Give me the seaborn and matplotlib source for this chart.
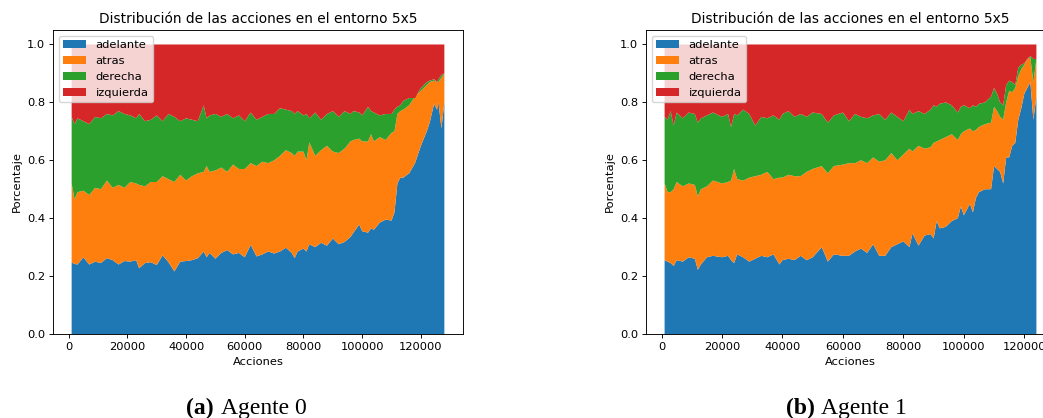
import numpy as np
import matplotlib
matplotlib.use('Agg')
import matplotlib.pyplot as plt
import seaborn as sns

SCALE = 0.825  # the two charts were shrunk to fit side by side

# action shares, stored as the stacked tops
# (adelante, adelante+atras, adelante+atras+derecha); izquierda fills to 1.0
labels = ['adelante', 'atras', 'derecha', 'izquierda']

x_agent0 = [1, 2, 3, 5, 7, 9, 11, 13, 15, 17, 19, 21, 23, 24, 26, 28, 30, 32, 34, 36,
            38, 40, 42, 44, 46, 47, 48, 50, 52, 54, 56, 58, 60, 62, 64, 66, 68, 70, 72, 74,
            76, 77, 78, 80, 81, 82, 84, 86, 88, 90, 92, 94, 96, 97, 99, 100, 102, 103, 104, 106,
            108, 110, 111, 112, 113, 114, 116, 118, 120, 122, 123, 124.5, 125.5, 126, 127, 128]
top_adelante0 = [0.247, 0.242, 0.240, 0.265, 0.240, 0.250, 0.245, 0.262, 0.255, 0.240,
                 0.252, 0.250, 0.255, 0.227, 0.245, 0.248, 0.238, 0.272, 0.248, 0.216,
                 0.250, 0.252, 0.255, 0.262, 0.285, 0.265, 0.280, 0.260, 0.280, 0.290,
                 0.275, 0.280, 0.265, 0.308, 0.268, 0.275, 0.285, 0.278, 0.285, 0.298,
                 0.280, 0.262, 0.285, 0.295, 0.285, 0.310, 0.300, 0.315, 0.305, 0.330,
                 0.310, 0.318, 0.335, 0.350, 0.378, 0.355, 0.350, 0.365, 0.360, 0.385,
                 0.395, 0.392, 0.420, 0.520, 0.540, 0.540, 0.555, 0.590, 0.650, 0.700,
                 0.730, 0.795, 0.775, 0.800, 0.710, 0.800]
top_atras0 = [0.520, 0.465, 0.490, 0.495, 0.480, 0.505, 0.500, 0.530, 0.505, 0.515,
              0.505, 0.525, 0.520, 0.515, 0.510, 0.525, 0.525, 0.545, 0.535, 0.525,
              0.550, 0.530, 0.545, 0.555, 0.560, 0.580, 0.560, 0.565, 0.575, 0.560,
              0.585, 0.570, 0.570, 0.590, 0.580, 0.595, 0.590, 0.600, 0.615, 0.635,
              0.625, 0.615, 0.630, 0.630, 0.600, 0.662, 0.615, 0.635, 0.650, 0.630,
              0.625, 0.640, 0.665, 0.670, 0.675, 0.665, 0.665, 0.690, 0.665, 0.680,
              0.670, 0.695, 0.700, 0.760, 0.770, 0.775, 0.790, 0.820, 0.840, 0.860,
              0.870, 0.875, 0.870, 0.870, 0.885, 0.900]
top_derecha0 = [0.750, 0.725, 0.745, 0.735, 0.725, 0.750, 0.745, 0.760, 0.755, 0.770,
                0.760, 0.755, 0.745, 0.760, 0.735, 0.740, 0.755, 0.735, 0.760, 0.750,
                0.735, 0.745, 0.740, 0.735, 0.790, 0.745, 0.755, 0.760, 0.750, 0.760,
                0.745, 0.755, 0.735, 0.765, 0.740, 0.750, 0.760, 0.760, 0.780, 0.775,
                0.770, 0.760, 0.770, 0.755, 0.760, 0.745, 0.765, 0.740, 0.760, 0.770,
                0.750, 0.770, 0.760, 0.770, 0.765, 0.755, 0.785, 0.770, 0.765, 0.755,
                0.760, 0.760, 0.775, 0.785, 0.790, 0.805, 0.815, 0.815, 0.850, 0.870,
                0.875, 0.880, 0.870, 0.880, 0.895, 0.900]

x_agent1 = [1, 2, 3, 4, 5, 7, 9, 11, 12, 13, 15, 17, 20, 22, 23, 24, 25, 27, 29, 31,
            33, 35, 37, 39, 40, 42, 44, 46, 48, 50, 53, 55, 57, 60, 62, 64, 66, 68, 70, 72,
            74, 76, 78, 80, 82, 83, 85, 87, 89, 90, 91, 92, 94, 96, 98, 99, 100, 102, 103, 104,
            105, 107, 109, 110, 111, 112, 113, 114, 115, 116, 117, 118, 119, 120, 121, 122, 123, 124]
top_adelante1 = [0.255, 0.250, 0.245, 0.235, 0.255, 0.250, 0.265, 0.260, 0.222, 0.240,
                 0.265, 0.270, 0.265, 0.270, 0.255, 0.245, 0.275, 0.265, 0.250, 0.260,
                 0.270, 0.265, 0.275, 0.240, 0.255, 0.260, 0.255, 0.270, 0.255, 0.265,
                 0.300, 0.250, 0.275, 0.270, 0.270, 0.285, 0.295, 0.280, 0.310, 0.270,
                 0.270, 0.300, 0.310, 0.320, 0.300, 0.348, 0.305, 0.340, 0.345, 0.330,
                 0.390, 0.365, 0.370, 0.390, 0.400, 0.440, 0.410, 0.450, 0.420, 0.470,
                 0.490, 0.500, 0.500, 0.580, 0.570, 0.560, 0.520, 0.610, 0.610, 0.650,
                 0.660, 0.740, 0.780, 0.830, 0.850, 0.870, 0.740, 0.820]
top_atras1 = [0.520, 0.490, 0.490, 0.500, 0.525, 0.510, 0.520, 0.515, 0.475, 0.500,
              0.510, 0.530, 0.520, 0.525, 0.530, 0.570, 0.535, 0.530, 0.540, 0.545,
              0.550, 0.560, 0.535, 0.540, 0.540, 0.550, 0.545, 0.545, 0.560, 0.570,
              0.580, 0.555, 0.580, 0.585, 0.590, 0.590, 0.600, 0.590, 0.610, 0.595,
              0.600, 0.625, 0.600, 0.620, 0.640, 0.630, 0.650, 0.640, 0.645, 0.660,
              0.665, 0.670, 0.680, 0.690, 0.670, 0.690, 0.700, 0.710, 0.700, 0.705,
              0.715, 0.725, 0.730, 0.785, 0.770, 0.750, 0.740, 0.800, 0.840, 0.835,
              0.850, 0.890, 0.915, 0.930, 0.950, 0.955, 0.870, 0.950]
top_derecha1 = [0.750, 0.740, 0.770, 0.720, 0.765, 0.745, 0.765, 0.760, 0.730, 0.745,
                0.755, 0.765, 0.750, 0.760, 0.715, 0.760, 0.755, 0.775, 0.760, 0.720,
                0.750, 0.745, 0.755, 0.740, 0.760, 0.770, 0.750, 0.760, 0.750, 0.765,
                0.760, 0.730, 0.755, 0.765, 0.735, 0.760, 0.750, 0.745, 0.755, 0.760,
                0.740, 0.765, 0.750, 0.735, 0.775, 0.760, 0.770, 0.760, 0.775, 0.790,
                0.785, 0.795, 0.800, 0.790, 0.765, 0.785, 0.790, 0.780, 0.790, 0.785,
                0.795, 0.800, 0.820, 0.850, 0.830, 0.800, 0.790, 0.860, 0.875, 0.870,
                0.860, 0.920, 0.930, 0.935, 0.950, 0.960, 0.950, 0.950]

captions = [('(a)', 'Agente 0'), ('(b)', 'Agente 1')]

sns.set_style('ticks', {'axes.edgecolor': 'black', 'text.color': 'black',
                        'axes.labelcolor': 'black', 'xtick.color': 'black',
                        'ytick.color': 'black'})
plt.rcParams['font.family'] = ['DejaVu Sans']
plt.rcParams['font.size'] = 10 * SCALE
plt.rcParams['axes.linewidth'] = 0.8 * SCALE
plt.rcParams['xtick.major.width'] = 0.8 * SCALE
plt.rcParams['ytick.major.width'] = 0.8 * SCALE
plt.rcParams['xtick.major.size'] = 3.5 * SCALE
plt.rcParams['ytick.major.size'] = 3.5 * SCALE
plt.rcParams['xtick.major.pad'] = 3.5 * SCALE
plt.rcParams['ytick.major.pad'] = 3.5 * SCALE
plt.rcParams['axes.titlepad'] = 6 * SCALE
plt.rcParams['axes.labelpad'] = 4 * SCALE
colors = sns.color_palette('tab10', 4)


def shares(tops):
    tops = np.array(tops + [np.ones(len(tops[0]))])
    return np.diff(np.vstack([np.zeros(tops.shape[1]), tops]), axis=0)


W, H = 1043, 418
fig = plt.figure(figsize=(W / 100, H / 100), dpi=100)
ax_boxes = [(53, 30, 410, 304), (646, 30, 409, 304)]
data = [(x_agent0, [top_adelante0, top_atras0, top_derecha0]),
        (x_agent1, [top_adelante1, top_atras1, top_derecha1])]

for (l, t, w, h), (xs, tops) in zip(ax_boxes, data):
    ax = fig.add_axes([l / W, (H - t - h) / H, w / W, h / H])
    ax.stackplot(np.array(xs) * 1000, shares(tops), labels=labels, colors=colors,
                 linewidth=0, edgecolor='none', antialiased=True)
    ax.set_title('Distribución de las acciones en el entorno 5x5', fontsize=12 * SCALE)
    ax.set_xlabel('Acciones')
    ax.set_ylabel('Porcentaje')
    ax.set_xticks([0, 20000, 40000, 60000, 80000, 100000, 120000])
    ax.legend(loc='upper left')

cap_pos = [(214, 221), (815, 821)]
for (tag, name), (xr, xl) in zip(captions, cap_pos):
    fig.text(xr / W, 4 / H, tag, ha='right', va='baseline', fontsize=17,
             family='Liberation Serif', fontweight='bold')
    fig.text(xl / W, 4 / H, name, ha='left', va='baseline', fontsize=17,
             family='Liberation Serif')

fig.savefig('out.png', dpi=100)
